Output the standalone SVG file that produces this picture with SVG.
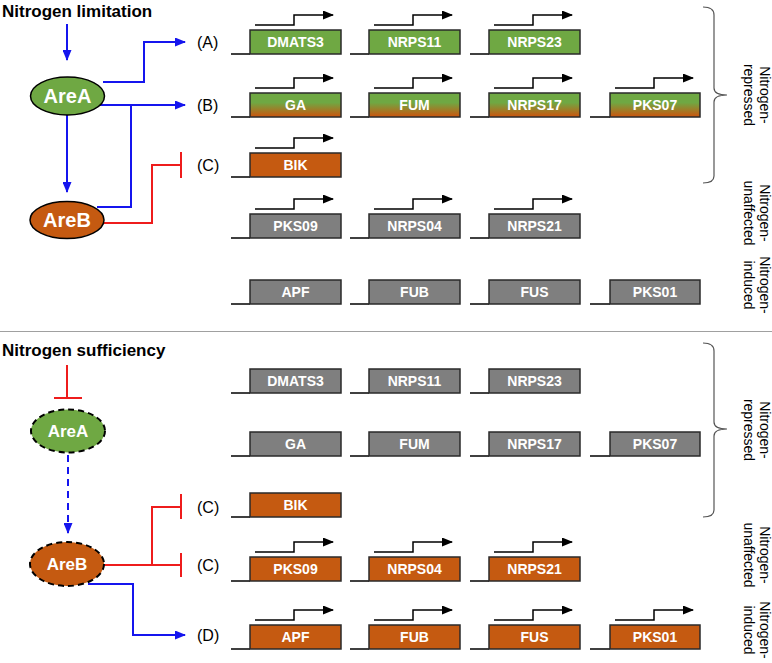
<svg xmlns="http://www.w3.org/2000/svg" width="772" height="663" viewBox="0 0 772 663">
<defs>
<linearGradient id="gradGO" x1="0" y1="0" x2="0" y2="1">
<stop offset="0" stop-color="#6fa843"/>
<stop offset="0.4" stop-color="#6fa843"/>
<stop offset="0.95" stop-color="#c55a11"/>
</linearGradient>
<marker id="mBlue" markerUnits="userSpaceOnUse" markerWidth="11" markerHeight="9" refX="10" refY="4.5" orient="auto">
<path d="M0,0 L11,4.5 L0,9 z" fill="#1515ee"/>
</marker>
<marker id="mBlack" markerUnits="userSpaceOnUse" markerWidth="11" markerHeight="9" refX="10" refY="4.5" orient="auto">
<path d="M0,0 L11,4.5 L0,9 z" fill="#000"/>
</marker>
<style>
.title{font-family:"Liberation Sans",Arial,sans-serif;font-weight:bold;font-size:17px;fill:#000}
.lbl{font-family:"Liberation Sans",Arial,sans-serif;font-size:16px;fill:#000}
.side{font-family:"Liberation Sans",Arial,sans-serif;font-size:14px;fill:#000;text-anchor:middle}
.gt{font-family:"Liberation Sans",Arial,sans-serif;font-weight:bold;font-size:14px;fill:#fff;text-anchor:middle}
.tf{font-family:"Liberation Sans",Arial,sans-serif;font-weight:bold;fill:#fff;text-anchor:middle}
.box{stroke:#2a2a2a;stroke-width:1.5}
.green{fill:#6fa843}
.orange{fill:#c55a11}
.gray{fill:#7f7f7f}
.grad{fill:url(#gradGO)}
.base{stroke:#000;stroke-width:1.5;fill:none}
.prom{stroke:#000;stroke-width:1.5;fill:none;marker-end:url(#mBlack)}
.act{stroke:#1515ee;stroke-width:2;fill:none}
.acta{stroke:#1515ee;stroke-width:2;fill:none;marker-end:url(#mBlue)}
.inh{stroke:#ee1c1c;stroke-width:2;fill:none}
.ell{stroke:#000;stroke-width:1.5}
.dash{stroke:#000;stroke-width:2;stroke-dasharray:6,4}
.brace{stroke:#555;stroke-width:1.2;fill:none}
</style>
</defs>
<rect width="772" height="663" fill="#fff"/>

<text class="title" x="2" y="16.5">Nitrogen limitation</text>
<text class="title" x="2" y="356">Nitrogen sufficiency</text>
<line x1="0" y1="331.5" x2="772" y2="331.5" stroke="#a0a0a0" stroke-width="1.2"/>

<g id="connectors">
<line class="acta" x1="67" y1="24" x2="67" y2="60"/>
<line class="acta" x1="67" y1="115" x2="67" y2="192"/>
<polyline class="acta" points="103,82 144,82 144,42 185,42"/>
<line class="acta" x1="100" y1="105" x2="185" y2="105"/>
<polyline class="act" points="97,207 131,207 131,105"/>
<polyline class="inh" points="104,223 152,223 152,165 181,165"/>
<line class="inh" x1="181" y1="152" x2="181" y2="178"/>

<line class="inh" x1="67" y1="365" x2="67" y2="398"/>
<line class="inh" x1="54" y1="398" x2="82" y2="398"/>
<line class="acta" x1="68" y1="455" x2="68" y2="533" stroke-dasharray="7,5"/>
<line class="inh" x1="104" y1="565" x2="181" y2="565"/>
<polyline class="inh" points="152,565 152,507 181,507"/>
<line class="inh" x1="181" y1="494" x2="181" y2="519"/>
<line class="inh" x1="181" y1="553" x2="181" y2="577"/>
<polyline class="acta" points="88,584 133,584 133,635 185,635"/>
</g>

<g id="labels">
<text class="lbl" x="197" y="48">(A)</text>
<text class="lbl" x="197" y="111">(B)</text>
<text class="lbl" x="197" y="171">(C)</text>
<text class="lbl" x="197" y="513">(C)</text>
<text class="lbl" x="197" y="571">(C)</text>
<text class="lbl" x="197" y="641">(D)</text>
</g>

<g id="AreA-top"><ellipse class="ell green" cx="67.5" cy="96" rx="37" ry="19"/><text class="tf" x="67.5" y="103" font-size="20">AreA</text></g>
<g id="AreB-top"><ellipse class="ell orange" cx="67" cy="220" rx="37" ry="18.5"/><text class="tf" x="67" y="227" font-size="20">AreB</text></g>
<g id="AreA-bottom"><ellipse class="dash green" cx="68" cy="431" rx="37" ry="21.5"/><text class="tf" x="68" y="437" font-size="17">AreA</text></g>
<g id="AreB-bottom"><ellipse class="dash orange" cx="67" cy="564" rx="37" ry="22"/><text class="tf" x="67" y="570" font-size="17">AreB</text></g>

<!-- top section genes -->
<g id="t-DMATS3"><path class="prom" d="M255,25 H294 V15 H333"/><path class="base" d="M231,54 H250"/><rect class="box green" x="250" y="30" width="91" height="24"/><text class="gt" x="295.5" y="47">DMATS3</text></g>
<g id="t-NRPS11"><path class="prom" d="M374,25 H413 V15 H452"/><path class="base" d="M350,54 H369"/><rect class="box green" x="369" y="30" width="91" height="24"/><text class="gt" x="414.5" y="47">NRPS11</text></g>
<g id="t-NRPS23"><path class="prom" d="M494,25 H533 V15 H572"/><path class="base" d="M470,54 H489"/><rect class="box green" x="489" y="30" width="91" height="24"/><text class="gt" x="534.5" y="47">NRPS23</text></g>

<g id="t-GA"><path class="prom" d="M255,88 H294 V78 H333"/><path class="base" d="M231,117 H250"/><rect class="box grad" x="250" y="93" width="91" height="24"/><text class="gt" x="295.5" y="110">GA</text></g>
<g id="t-FUM"><path class="prom" d="M374,88 H413 V78 H452"/><path class="base" d="M350,117 H369"/><rect class="box grad" x="369" y="93" width="91" height="24"/><text class="gt" x="414.5" y="110">FUM</text></g>
<g id="t-NRPS17"><path class="prom" d="M494,88 H533 V78 H572"/><path class="base" d="M470,117 H489"/><rect class="box grad" x="489" y="93" width="91" height="24"/><text class="gt" x="534.5" y="110">NRPS17</text></g>
<g id="t-PKS07"><path class="prom" d="M615,88 H654 V78 H693"/><path class="base" d="M590,117 H610"/><rect class="box grad" x="610" y="93" width="90" height="24"/><text class="gt" x="655" y="110">PKS07</text></g>

<g id="t-BIK"><path class="prom" d="M255,148 H294 V138 H333"/><path class="base" d="M231,177 H250"/><rect class="box orange" x="250" y="153" width="91" height="24"/><text class="gt" x="295.5" y="170">BIK</text></g>

<g id="t-PKS09"><path class="prom" d="M255,209 H294 V199 H333"/><path class="base" d="M231,238 H250"/><rect class="box gray" x="250" y="214" width="91" height="24"/><text class="gt" x="295.5" y="231">PKS09</text></g>
<g id="t-NRPS04"><path class="prom" d="M374,209 H413 V199 H452"/><path class="base" d="M350,238 H369"/><rect class="box gray" x="369" y="214" width="91" height="24"/><text class="gt" x="414.5" y="231">NRPS04</text></g>
<g id="t-NRPS21"><path class="prom" d="M494,209 H533 V199 H572"/><path class="base" d="M470,238 H489"/><rect class="box gray" x="489" y="214" width="91" height="24"/><text class="gt" x="534.5" y="231">NRPS21</text></g>

<g id="t-APF"><path class="base" d="M231,304 H250"/><rect class="box gray" x="250" y="280" width="91" height="24"/><text class="gt" x="295.5" y="297">APF</text></g>
<g id="t-FUB"><path class="base" d="M350,304 H369"/><rect class="box gray" x="369" y="280" width="91" height="24"/><text class="gt" x="414.5" y="297">FUB</text></g>
<g id="t-FUS"><path class="base" d="M470,304 H489"/><rect class="box gray" x="489" y="280" width="91" height="24"/><text class="gt" x="534.5" y="297">FUS</text></g>
<g id="t-PKS01"><path class="base" d="M590,304 H610"/><rect class="box gray" x="610" y="280" width="90" height="24"/><text class="gt" x="655" y="297">PKS01</text></g>

<!-- bottom section genes -->
<g id="b-DMATS3"><path class="base" d="M231,393 H250"/><rect class="box gray" x="250" y="369" width="91" height="24"/><text class="gt" x="295.5" y="386">DMATS3</text></g>
<g id="b-NRPS11"><path class="base" d="M350,393 H369"/><rect class="box gray" x="369" y="369" width="91" height="24"/><text class="gt" x="414.5" y="386">NRPS11</text></g>
<g id="b-NRPS23"><path class="base" d="M470,393 H489"/><rect class="box gray" x="489" y="369" width="91" height="24"/><text class="gt" x="534.5" y="386">NRPS23</text></g>

<g id="b-GA"><path class="base" d="M231,456 H250"/><rect class="box gray" x="250" y="432" width="91" height="24"/><text class="gt" x="295.5" y="449">GA</text></g>
<g id="b-FUM"><path class="base" d="M350,456 H369"/><rect class="box gray" x="369" y="432" width="91" height="24"/><text class="gt" x="414.5" y="449">FUM</text></g>
<g id="b-NRPS17"><path class="base" d="M470,456 H489"/><rect class="box gray" x="489" y="432" width="91" height="24"/><text class="gt" x="534.5" y="449">NRPS17</text></g>
<g id="b-PKS07"><path class="base" d="M590,456 H610"/><rect class="box gray" x="610" y="432" width="90" height="24"/><text class="gt" x="655" y="449">PKS07</text></g>

<g id="b-BIK"><path class="base" d="M231,517 H250"/><rect class="box orange" x="250" y="493" width="91" height="24"/><text class="gt" x="295.5" y="510">BIK</text></g>

<g id="b-PKS09"><path class="prom" d="M255,552 H294 V542 H333"/><path class="base" d="M231,581 H250"/><rect class="box orange" x="250" y="557" width="91" height="24"/><text class="gt" x="295.5" y="574">PKS09</text></g>
<g id="b-NRPS04"><path class="prom" d="M374,552 H413 V542 H452"/><path class="base" d="M350,581 H369"/><rect class="box orange" x="369" y="557" width="91" height="24"/><text class="gt" x="414.5" y="574">NRPS04</text></g>
<g id="b-NRPS21"><path class="prom" d="M494,552 H533 V542 H572"/><path class="base" d="M470,581 H489"/><rect class="box orange" x="489" y="557" width="91" height="24"/><text class="gt" x="534.5" y="574">NRPS21</text></g>

<g id="b-APF"><path class="prom" d="M255,620 H294 V610 H333"/><path class="base" d="M231,649 H250"/><rect class="box orange" x="250" y="625" width="91" height="24"/><text class="gt" x="295.5" y="642">APF</text></g>
<g id="b-FUB"><path class="prom" d="M374,620 H413 V610 H452"/><path class="base" d="M350,649 H369"/><rect class="box orange" x="369" y="625" width="91" height="24"/><text class="gt" x="414.5" y="642">FUB</text></g>
<g id="b-FUS"><path class="prom" d="M494,620 H533 V610 H572"/><path class="base" d="M470,649 H489"/><rect class="box orange" x="489" y="625" width="91" height="24"/><text class="gt" x="534.5" y="642">FUS</text></g>
<g id="b-PKS01"><path class="prom" d="M615,620 H654 V610 H693"/><path class="base" d="M590,649 H610"/><rect class="box orange" x="610" y="625" width="90" height="24"/><text class="gt" x="655" y="642">PKS01</text></g>

<!-- braces and side labels -->
<g id="brace-top"><path class="brace" d="M703,7 Q714,7 714,15 L714,88 Q714,95 727,95 Q714,95 714,102 L714,176 Q714,183 703,183"/></g>
<g id="brace-bottom"><path class="brace" d="M703,343 Q714,343 714,351 L714,422 Q714,429 727,429 Q714,429 714,436 L714,510 Q714,517 703,517"/></g>

<g id="side-labels">
<text class="side" transform="translate(760,95) rotate(90)"><tspan x="0" y="0">Nitrogen-</tspan><tspan x="0" y="16">repressed</tspan></text>
<text class="side" transform="translate(760,213) rotate(90)"><tspan x="0" y="0">Nitrogen-</tspan><tspan x="0" y="16">unaffected</tspan></text>
<text class="side" transform="translate(760,285) rotate(90)"><tspan x="0" y="0">Nitrogen-</tspan><tspan x="0" y="16">induced</tspan></text>
<text class="side" transform="translate(760,430) rotate(90)"><tspan x="0" y="0">Nitrogen-</tspan><tspan x="0" y="16">repressed</tspan></text>
<text class="side" transform="translate(760,555) rotate(90)"><tspan x="0" y="0">Nitrogen-</tspan><tspan x="0" y="16">unaffected</tspan></text>
<text class="side" transform="translate(760,630) rotate(90)"><tspan x="0" y="0">Nitrogen-</tspan><tspan x="0" y="16">induced</tspan></text>
</g>
</svg>
